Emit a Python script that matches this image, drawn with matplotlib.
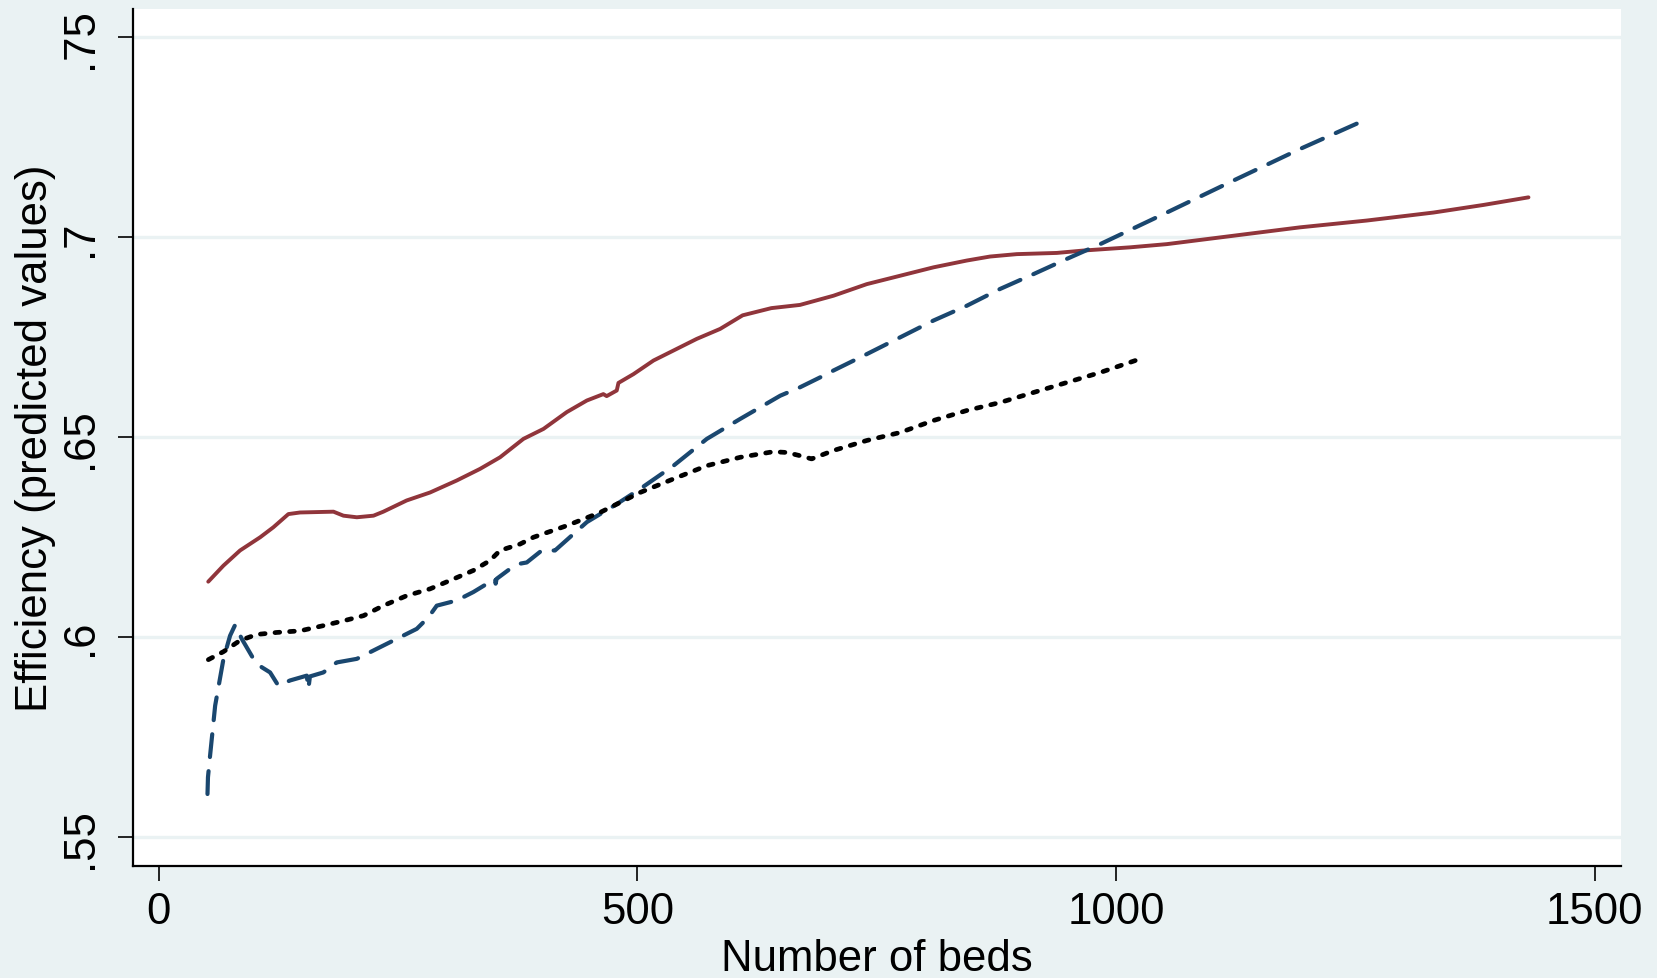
import matplotlib
matplotlib.use("Agg")
import matplotlib.pyplot as plt

# predicted efficiency by number of beds, three fits
red_x = [51.8, 67.6, 85, 106, 119.8, 135.5, 147.7, 182.6, 193, 207, 224.4, 234.7, 259, 283.5,
         311.4, 335.7, 356.6, 381, 402, 426.3, 447.3, 464.5, 468, 478.5, 480.3, 496, 516.9,
         537.8, 562, 586.5, 610, 640, 669.9, 704.9, 739.7, 774.6, 809.4, 844.2, 868.5, 896.4,
         938.2, 966, 1014.7, 1053.1, 1122.7, 1192.3, 1262, 1331.7, 1383.9, 1430.9]
red_y = [0.6139, 0.6179, 0.6217, 0.625, 0.6275, 0.6308, 0.6312, 0.6314, 0.6304, 0.63, 0.6304,
         0.6314, 0.6342, 0.6362, 0.6392, 0.6421, 0.645, 0.6496, 0.6521, 0.6563, 0.6592, 0.6608,
         0.6603, 0.6617, 0.6636, 0.6658, 0.6692, 0.6717, 0.6746, 0.6771, 0.6805, 0.6823, 0.6831,
         0.6854, 0.6883, 0.6904, 0.6925, 0.6942, 0.6952, 0.6958, 0.6961, 0.6967, 0.6975, 0.6983,
         0.7004, 0.7025, 0.7042, 0.7062, 0.7081, 0.71]

blue_x = [51, 51.5, 53.7, 59, 67.7, 74.6, 79.9, 86.8, 99, 107.7, 116.4, 125, 137.3, 154.7, 156.4,
          158, 172, 186, 207, 227.8, 248.7, 269.6, 281.8, 290.5, 311.4, 328.7, 351.4, 352, 353,
          367, 377.5, 384.5, 400.2, 414, 447.3, 478.5, 502.9, 537.8, 572.6, 607.5, 649.3, 669.9,
          694.5, 704.9, 739.7, 774.6, 809.4, 844.2, 879, 913.8, 948.6, 983.5, 1053.1, 1122.7,
          1192.3, 1255]
blue_y = [0.5608, 0.565, 0.5704, 0.5829, 0.5946, 0.6004, 0.6031, 0.5996, 0.5946, 0.5925, 0.5912,
          0.5879, 0.5892, 0.5904, 0.5871, 0.5902, 0.5912, 0.5937, 0.5946, 0.5971, 0.5996, 0.6021,
          0.605, 0.6079, 0.6092, 0.6113, 0.6146, 0.6134, 0.6146, 0.6171, 0.6184, 0.6187, 0.6217,
          0.6217, 0.6288, 0.6333, 0.6371, 0.6429, 0.6496, 0.6546, 0.6604, 0.6625, 0.6654, 0.6667,
          0.6708, 0.675, 0.6792, 0.6829, 0.6871, 0.6908, 0.6946, 0.6983, 0.7062, 0.7142, 0.7221,
          0.7288]

black_x = [51.9, 67.7, 85, 102.5, 123.4, 147.7, 172, 193, 214, 234.7, 259.2, 283.5, 304.4, 328.7,
           346.2, 356.6, 377.5, 391.5, 426.3, 461.1, 502.9, 537.8, 572.6, 607.5, 642.2, 656.2,
           669.9, 682.1, 704.9, 739.7, 774.6, 809.4, 844.2, 879, 913.8, 948.6, 983.5, 1025.2]
black_y = [0.5944, 0.5964, 0.5992, 0.6007, 0.6012, 0.6016, 0.6029, 0.6041, 0.6054, 0.6079, 0.6104,
           0.6121, 0.6142, 0.6167, 0.6192, 0.6217, 0.6233, 0.625, 0.6279, 0.6312, 0.6362, 0.6396,
           0.6429, 0.645, 0.6464, 0.6462, 0.6454, 0.6446, 0.6467, 0.6492, 0.6512, 0.6542, 0.6567,
           0.6587, 0.6612, 0.6637, 0.6662, 0.6696]

x_ticks = [0, 500, 1000, 1500]
y_ticks = [0.55, 0.6, 0.65, 0.7, 0.75]
y_tick_labels = [".55", ".6", ".65", ".7", ".75"]

bg = "#EAF2F3"
fs = 31.5
plt.rcParams["font.family"] = ["Liberation Sans", "DejaVu Sans"]

fig = plt.figure(figsize=(16.57, 9.79), dpi=100, facecolor=bg)
ax = fig.add_axes([0.0801, 0.1144, 0.9783 - 0.0801, 0.9898 - 0.1144])
ax.set_facecolor("white")

for v in y_ticks:
    ax.axhline(v, color=bg, lw=2.4, zorder=1)

ax.plot(red_x, red_y, color="#90353B", lw=2.8, solid_capstyle="round",
        solid_joinstyle="round", zorder=3)
ax.plot(blue_x, blue_y, color="#1A476F", lw=3.0, dashes=(5.5, 3.4),
        dash_capstyle="round", dash_joinstyle="round", zorder=3)
ax.plot(black_x, black_y, color="black", lw=3.4, dashes=(1.0, 2.1),
        dash_capstyle="round", dash_joinstyle="round", zorder=3)

ax.set_xlim(-27.1, 1527.6)
ax.set_ylim(0.5428, 0.7571)

ax.set_xticks(x_ticks)
ax.set_yticks(y_ticks)
ax.set_yticklabels(y_tick_labels, rotation=90, va="center")
ax.tick_params(axis="both", labelsize=fs, length=11, width=1.2, color="black", direction="out")
ax.tick_params(axis="x", pad=7)
ax.tick_params(axis="y", pad=12)

for s in ["top", "right"]:
    ax.spines[s].set_visible(False)
for s in ["left", "bottom"]:
    ax.spines[s].set_linewidth(1.6)

fig.text(877 / 1657, 1 - 971 / 979, "Number of beds", fontsize=fs, ha="center", va="baseline")
fig.text(47 / 1657, 0.552, "Efficiency (predicted values)", fontsize=fs, rotation=90,
         rotation_mode="anchor", ha="center", va="baseline")

fig.savefig("out.png", dpi=100, facecolor=bg)
